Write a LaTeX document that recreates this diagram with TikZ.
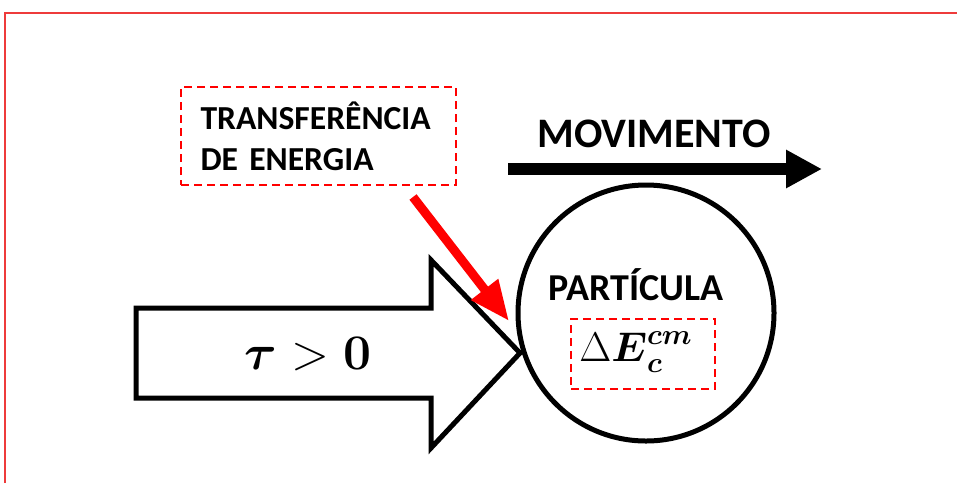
\documentclass[tikz,border=0pt]{standalone}
\usepackage{amsmath,amssymb}
\usepackage[no-math]{fontspec}
\setmainfont{Carlito}
\usetikzlibrary{positioning,arrows.meta}
\definecolor{frame}{HTML}{EE3B3B}
\definecolor{accent}{HTML}{FF0000}
\definecolor{ink}{HTML}{000000}

\tikzset{
  redbox/.style={draw=accent, line width=1pt, dash pattern=on 4pt off 2.5pt},
  label/.style={font=\bfseries, text=ink, inner sep=0pt},
}

\begin{document}
\begin{tikzpicture}[x=0.5pt, y=-0.5pt, >=Latex]
  \useasboundingbox (0,0) rectangle (957,483);
  % outer frame (only top and left visible)
  \draw[frame, line width=1pt] (5,483) |- (957,13);

  % energy transfer box
  \node[redbox, label, align=left, text width=118pt, inner xsep=9.75pt,
        minimum height=49pt, font=\bfseries\fontsize{16.8}{20.5}\selectfont]
    (transfer) at (318.5,136) {TRANSFERÊNCIA\\DE ENERGIA};

  % motion arrow
  \node[label, font=\bfseries\fontsize{21}{24}\selectfont] (motion) at (654,134) {MOVIMENTO};
  \coordinate (motionA) at (508,169);
  \coordinate (motionB) at (822,169);
  \draw[ink, line width=6pt, -{Triangle[length=18pt,width=18pt]}] (motionA) -- (motionB);

  % particle
  \node[draw=ink, line width=2.5pt, circle, minimum size=128pt, inner sep=0pt] (particle) at (646,313) {};
  \node[label, font=\bfseries\fontsize{19}{22}\selectfont] (name) at (636,285) {PARTÍCULA};
  \node[redbox, minimum width=72pt, minimum height=35pt, inner sep=0pt] (dEcbox) at (643,354) {};
  \node[font=\fontsize{20.5}{24}\selectfont, inner sep=0pt] (dEc) at (636,352)
    {$\Delta\boldsymbol{E}_{\boldsymbol{c}}^{\boldsymbol{cm}}$};

  % work arrow
  \draw[ink, line width=2.5pt, line join=miter, fill=white]
    (136,308) -- (431,308) -- (431,260) -- (520,353) -- (431,448) -- (431,398) -- (136,398) -- cycle;
  \node[font=\fontsize{26}{30}\selectfont] (work) at (308,354) {$\boldsymbol{\tau} > \mathbf{0}$};

  % energy transfer connector
  \coordinate (transferA) at (413,197);
  \coordinate (transferB) at (509,321);
  \draw[accent, line width=4.5pt, -{Triangle[length=20pt,width=16pt]}] (transferA) -- (transferB);
\end{tikzpicture}
\end{document}
